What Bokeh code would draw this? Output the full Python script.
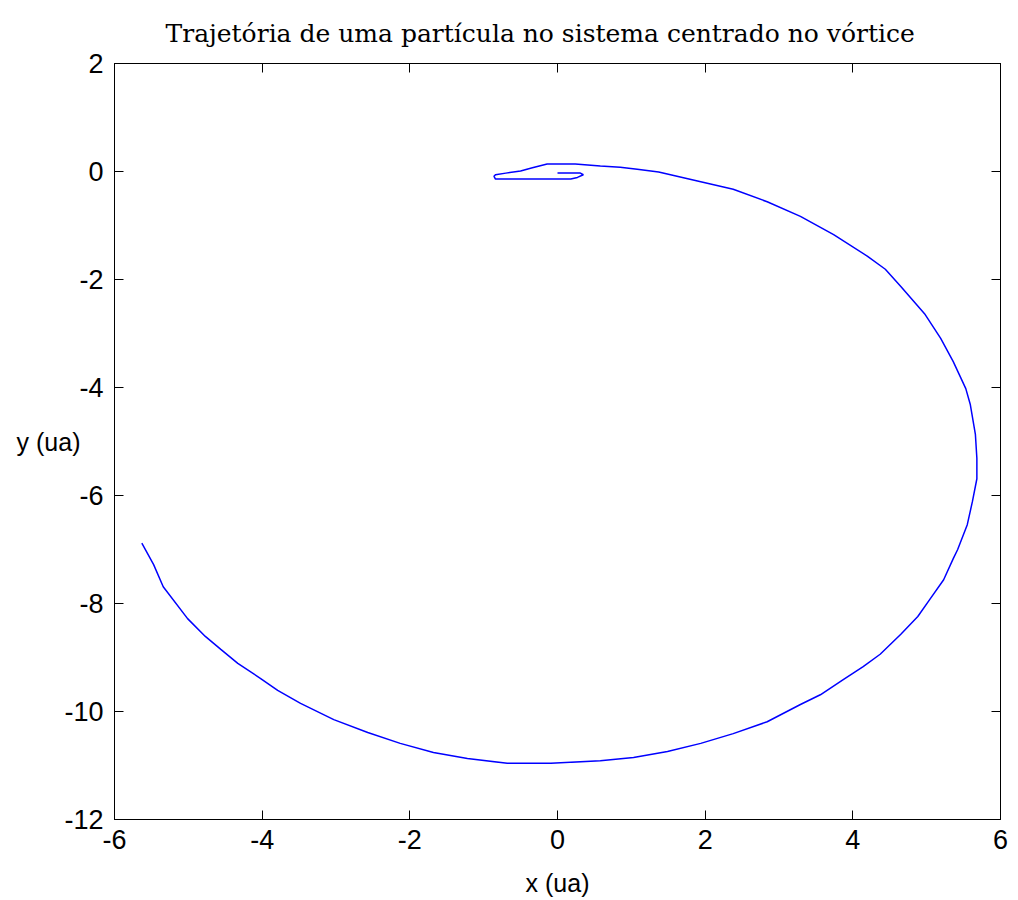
from bokeh.plotting import figure
from bokeh.models import Range1d, FixedTicker, LinearAxis
from bokeh.embed import file_html
from bokeh.resources import INLINE

# Trajectory, in order along the path
traj_x = [0.0, 0.31, 0.35, 0.27, 0.18, -0.84, -0.86, -0.84, -0.70, -0.50, -0.34, -0.14,
          0.24, 0.58, 0.85, 1.08, 1.37, 1.94, 2.38, 2.84, 3.29, 3.74, 4.20, 4.44,
          4.65, 4.98, 5.19, 5.36, 5.53, 5.59, 5.66, 5.68, 5.68, 5.62, 5.55, 5.42,
          5.36, 5.23, 5.05, 4.88, 4.65, 4.37, 4.14, 3.87, 3.56, 3.29, 2.84, 2.38,
          1.94, 1.49, 1.03, 0.58, -0.09, -0.68, -1.22, -1.68, -2.13, -2.57, -3.03,
          -3.48, -3.79, -4.02, -4.33, -4.56, -4.77, -5.01, -5.34, -5.47, -5.63]
traj_y = [-0.03, -0.03, -0.06, -0.11, -0.14, -0.14, -0.09, -0.06, -0.03, 0.01, 0.07, 0.14,
          0.14, 0.10, 0.08, 0.04, -0.01, -0.19, -0.33, -0.56, -0.83, -1.17, -1.57, -1.81,
          -2.13, -2.65, -3.09, -3.52, -4.02, -4.31, -4.87, -5.31, -5.69, -6.11, -6.54, -7.00,
          -7.17, -7.56, -7.91, -8.24, -8.57, -8.94, -9.17, -9.41, -9.69, -9.87, -10.19, -10.41,
          -10.59, -10.74, -10.85, -10.91, -10.96, -10.96, -10.87, -10.76, -10.59, -10.39, -10.15,
          -9.85, -9.61, -9.39, -9.11, -8.85, -8.61, -8.28, -7.69, -7.28, -6.88]

x_ticks = [-6, -4, -2, 0, 2, 4, 6]
y_ticks = [-12, -10, -8, -6, -4, -2, 0, 2]

title_text = "Trajetória de uma partícula no sistema centrado no vórtice"
x_label = "x (ua)"
y_label = "y (ua)"

p = figure(width=1010, height=884, frame_width=886, frame_height=756,
           x_range=Range1d(-6, 6), y_range=Range1d(-12, 2),
           output_backend="svg", toolbar_location=None,
           min_border_left=114, min_border_top=62, min_border_right=10, min_border_bottom=66)

p.title.text = title_text
p.title.text_font = "DejaVu Serif"
p.title.text_font_size = "25px"
p.title.text_font_style = "normal"
p.title.text_color = "black"
p.title.align = "left"
p.title.offset = 51
p.title.standoff = 32
p.title.text_line_height = 0.9

p.xgrid.visible = False
p.ygrid.visible = False
p.outline_line_color = "black"
p.outline_line_width = 1
p.background_fill_color = "white"
p.border_fill_color = "white"

p.line(traj_x, traj_y, line_color="#0000ff", line_width=1.5)

for ax in (p.xaxis[0], p.yaxis[0]):
    ax.major_tick_in = 9
    ax.major_tick_out = 0
    ax.minor_tick_in = 0
    ax.minor_tick_out = 0
    ax.axis_line_color = "black"
    ax.major_tick_line_color = "black"
    ax.major_label_text_font = "Liberation Sans"
    ax.major_label_text_font_size = "27px"
    ax.major_label_text_color = "black"
    ax.axis_label_text_font = "Liberation Sans"
    ax.axis_label_text_font_size = "25px"
    ax.axis_label_text_font_style = "normal"
    ax.axis_label_text_color = "black"

p.xaxis.ticker = FixedTicker(ticks=x_ticks)
p.yaxis.ticker = FixedTicker(ticks=y_ticks)
p.xaxis.major_label_overrides = {t: str(t) for t in x_ticks}
p.yaxis.major_label_overrides = {t: str(t) for t in y_ticks}
p.xaxis.axis_label = x_label
p.yaxis.axis_label = y_label
p.yaxis.axis_label_orientation = "horizontal"
p.yaxis.axis_label_standoff = -19
p.xaxis.axis_label_standoff = 17
p.xaxis.major_label_standoff = 10
p.yaxis.major_label_standoff = 11

top_ax = LinearAxis(ticker=FixedTicker(ticks=x_ticks), major_label_text_font_size="0px",
                    major_tick_in=9, major_tick_out=0, minor_tick_in=0, minor_tick_out=0,
                    axis_line_color="black", major_label_standoff=0)
right_ax = LinearAxis(ticker=FixedTicker(ticks=y_ticks), major_label_text_font_size="0px",
                      major_tick_in=9, major_tick_out=0, minor_tick_in=0, minor_tick_out=0,
                      axis_line_color="black", major_label_standoff=0)
top_ax.major_label_text_alpha = 0
right_ax.major_label_text_alpha = 0
p.add_layout(top_ax, "above")
p.add_layout(right_ax, "right")

open("out.html", "w").write(file_html(p, INLINE))
